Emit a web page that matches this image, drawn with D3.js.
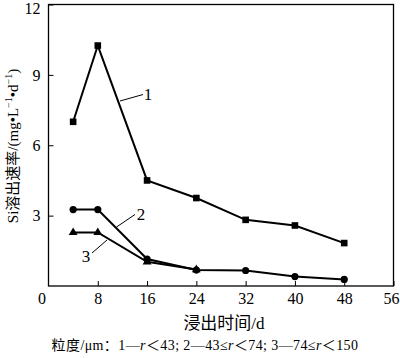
<!DOCTYPE html>
<html><head><meta charset="utf-8">
<script src="https://cdn.jsdelivr.net/npm/d3@7"></script>
<style>
body{margin:0;background:#fff;}
svg{display:block;}
text{font-family:"Liberation Serif","Noto Sans CJK SC",serif;fill:#000;}
</style></head>
<body>
<svg id="c" width="400" height="358"></svg>
<script>
const days = [4, 8, 16, 24, 32, 40, 48];
const series1 = [7.0, 10.25, 4.5, 3.75, 2.82, 2.58, 1.83];
const series2 = [3.26, 3.26, 1.15, 0.68, 0.66, 0.4, 0.28];
const days3 = [4, 8, 16, 24];
const series3 = [2.28, 2.28, 1.03, 0.7];
const xTicks = [8, 16, 24, 32, 40, 48, 56];
const yTicks = [3, 6, 9, 12];
const seriesLabels = ["1", "2", "3"];

const svg = d3.select("#c");
const x = d3.scaleLinear().domain([0, 56]).range([48.5, 393.5]);
const y = d3.scaleLinear().domain([0, 12]).range([286, 4.5]);

// frame
svg.append("rect").attr("x", x(0)).attr("y", y(12))
  .attr("width", x(56) - x(0)).attr("height", y(0) - y(12))
  .attr("fill", "none").attr("stroke", "#000").attr("stroke-width", 1.3);

// x axis ticks (inward)
const xa = svg.append("g").attr("transform", `translate(0,${y(0)})`)
  .call(d3.axisBottom(x).tickValues(xTicks).tickSize(-5).tickPadding(10).tickFormat(d3.format("d")));
xa.select(".domain").remove();
xa.selectAll("line").attr("stroke", "#000").attr("stroke-width", 1);
xa.selectAll("text").attr("font-size", 16).attr("dy", "0.71em").attr("y", 7);
xa.selectAll("text").filter(d => d === 56).attr("x", -2.5);

const ya = svg.append("g").attr("transform", `translate(${x(0)},0)`)
  .call(d3.axisLeft(y).tickValues(yTicks).tickSize(-5).tickPadding(8).tickFormat(d3.format("d")));
ya.select(".domain").remove();
ya.selectAll("line").attr("stroke", "#000").attr("stroke-width", 1);
ya.selectAll("text").attr("font-size", 16);
ya.selectAll("text").filter(d => d === 12).attr("y", 3.5);

// origin label
svg.append("text").attr("x", 42).attr("y", y(0) + 7).attr("dy", "0.71em")
  .attr("text-anchor", "middle").attr("font-size", 16).text("0");

// lines
const line = d3.line().x(d => x(d[0])).y(d => y(d[1]));
const s1 = days.map((d, i) => [d, series1[i]]);
const s2 = days.map((d, i) => [d, series2[i]]);
const s3 = days3.map((d, i) => [d, series3[i]]);

[s3, s2, s1].forEach(s => {
  svg.append("path").datum(s).attr("d", line)
    .attr("fill", "none").attr("stroke", "#000").attr("stroke-width", 2);
});

// markers
svg.append("g").selectAll("path").data(s3).join("path")
  .attr("transform", d => `translate(${x(d[0])},${y(d[1])})`)
  .attr("d", d3.symbol(d3.symbolTriangle, 34)).attr("fill", "#000");
svg.append("g").selectAll("circle").data(s2).join("circle")
  .attr("cx", d => x(d[0])).attr("cy", d => y(d[1])).attr("r", 3.6).attr("fill", "#000");
svg.append("g").selectAll("rect").data(s1).join("rect")
  .attr("x", d => x(d[0]) - 3.3).attr("y", d => y(d[1]) - 3.3)
  .attr("width", 6.6).attr("height", 6.6).attr("fill", "#000");

// series callouts
const leaders = [
  {x1: 120, y1: 101, x2: 143, y2: 94.5, tx: 148, ty: 94},
  {x1: 116.5, y1: 227, x2: 135, y2: 214.5, tx: 141, ty: 214},
  {x1: 92, y1: 253, x2: 107, y2: 240, tx: 86, ty: 256}
];
leaders.forEach((l, i) => {
  svg.append("line").attr("x1", l.x1).attr("y1", l.y1).attr("x2", l.x2).attr("y2", l.y2)
    .attr("stroke", "#000").attr("stroke-width", 1);
  svg.append("text").attr("x", l.tx).attr("y", l.ty).attr("dy", "0.35em")
    .attr("text-anchor", "middle").attr("font-size", 17).text(seriesLabels[i]);
});

// y title
const yt = svg.append("text").attr("transform", "translate(18,146) rotate(-90)")
  .attr("text-anchor", "middle").attr("font-size", 15);
yt.append("tspan").text("Si溶出速率/(mg•L");
yt.append("tspan").attr("dy", -6).attr("font-size", 10).text("−1");
yt.append("tspan").attr("dy", 6).text("•d");
yt.append("tspan").attr("dy", -6).attr("font-size", 10).text("−1");
yt.append("tspan").attr("dy", 6).text(")");

// x title
svg.append("text").attr("x", 224).attr("y", 323).attr("dy", "0.35em")
  .attr("text-anchor", "middle").attr("font-size", 17).text("浸出时间/d");

// caption
const cap = svg.append("text").attr("x", 205).attr("y", 345).attr("dy", "0.35em")
  .attr("text-anchor", "middle").attr("font-size", 14).attr("letter-spacing", 0.4);
cap.append("tspan").text("粒度/μm：1—");
cap.append("tspan").attr("font-style", "italic").text("r");
cap.append("tspan").text("＜43; 2—43≤");
cap.append("tspan").attr("font-style", "italic").text("r");
cap.append("tspan").text("＜74; 3—74≤");
cap.append("tspan").attr("font-style", "italic").text("r");
cap.append("tspan").text("＜150");
</script>
</body></html>
